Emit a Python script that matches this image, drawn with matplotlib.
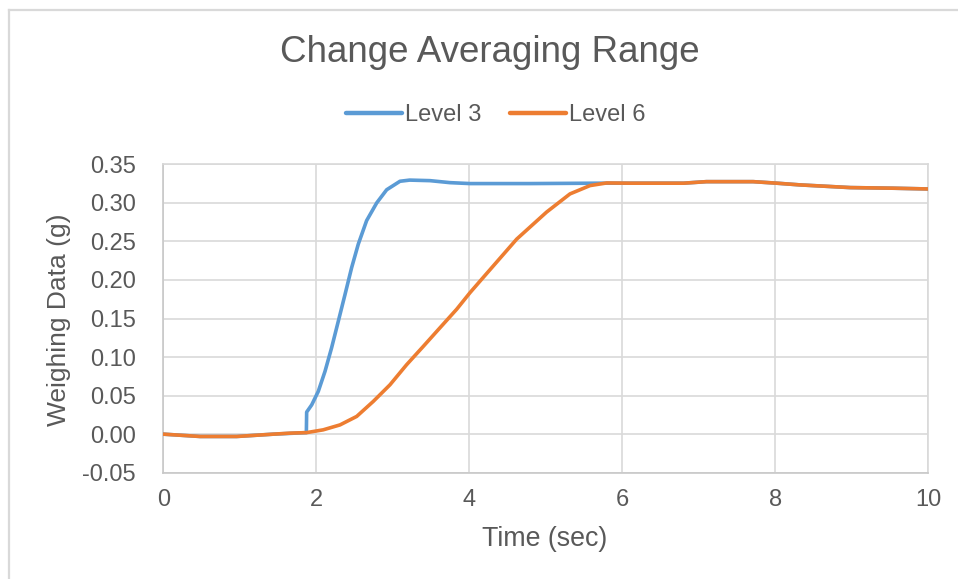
import matplotlib
matplotlib.use("Agg")
import matplotlib.pyplot as plt
from matplotlib.lines import Line2D

# ---- data ----
t_level3 = [0.0, 0.48, 0.96, 1.44, 1.87, 1.874, 1.94, 2.026, 2.114, 2.2, 2.288, 2.375,
            2.462, 2.549, 2.658, 2.79, 2.92, 3.094, 3.22, 3.486, 3.748, 4.01, 4.79,
            5.66, 6.1, 6.8, 7.1, 7.71, 8.02, 8.32, 8.98, 9.54, 10.0]
v_level3 = [0.0, -0.003, -0.003, 0.0, 0.002, 0.0286, 0.038, 0.0555, 0.0815, 0.112, 0.1466,
            0.181, 0.216, 0.2465, 0.277, 0.300, 0.317, 0.328, 0.3295, 0.3288, 0.3262,
            0.3250, 0.3250, 0.3255, 0.3255, 0.3255, 0.3275, 0.3275, 0.3255, 0.3233, 0.3198,
            0.319, 0.318]

t_level6 = [0.0, 0.48, 0.96, 1.44, 1.656, 1.874, 2.09, 2.31, 2.528, 2.745, 2.963, 3.18,
            3.4, 3.617, 3.835, 4.01, 4.18, 4.62, 5.01, 5.316, 5.578, 5.796, 6.1, 6.8,
            7.1, 7.71, 8.02, 8.32, 8.98, 9.54, 10.0]
v_level6 = [0.0, -0.003, -0.003, 0.0, 0.0013, 0.002, 0.0056, 0.012, 0.023, 0.0425, 0.064,
            0.090, 0.114, 0.138, 0.162, 0.1836, 0.203, 0.253, 0.288, 0.3116, 0.3224,
            0.3258, 0.3255, 0.3255, 0.3275, 0.3275, 0.3255, 0.3233, 0.3198, 0.319, 0.318]

series_names = ["Level 3", "Level 6"]
x_ticks = [0, 2, 4, 6, 8, 10]
y_ticks = [-0.05, 0.0, 0.05, 0.10, 0.15, 0.20, 0.25, 0.30, 0.35]
title = "Change Averaging Range"
x_label = "Time (sec)"
y_label = "Weighing Data (g)"

# ---- styling ----
FONT = ["Liberation Sans", "DejaVu Sans"]
TXT = "#595959"
GRID = "#d9d9d9"
BLUE = "#5B9BD5"
ORANGE = "#ED7D31"
plt.rcParams["font.family"] = FONT

W, H = 958, 579
fig = plt.figure(figsize=(W / 100, H / 100), dpi=100)
fig.patch.set_facecolor("white")

ax = fig.add_axes([163.3 / W, 1 - 472.7 / H, 765 / W, 308.4 / H])
ax.plot(t_level3, v_level3, color=BLUE, lw=2.6, label=series_names[0],
        solid_capstyle="round", solid_joinstyle="round", zorder=3)
ax.plot(t_level6, v_level6, color=ORANGE, lw=2.6, label=series_names[1],
        solid_capstyle="round", solid_joinstyle="round", zorder=4)

ax.set_xlim(0, 10)
ax.set_ylim(-0.05, 0.35)
ax.set_xticks(x_ticks)
ax.set_xticklabels([str(v) for v in x_ticks])
ax.set_yticks(y_ticks)
ax.set_yticklabels([f"{v:.2f}" for v in y_ticks])
ax.grid(True, color=GRID, lw=1.2, zorder=0)
ax.set_axisbelow(True)
for s in ax.spines.values():
    s.set_color(GRID)
    s.set_linewidth(1.2)
ax.spines["left"].set_color("#c8c8c8")
ax.spines["bottom"].set_color("#c8c8c8")
ax.tick_params(axis="both", length=0, labelsize=17, labelcolor=TXT)
ax.tick_params(axis="y", pad=20)
ax.tick_params(axis="x", pad=12)

fig.text(490 / W, 1 - 52 / H, title, ha="center", va="center", fontsize=26.5, color=TXT)
fig.text(545 / W, 1 - 539 / H, x_label, ha="center", va="center", fontsize=19.3, color=TXT)
fig.text(59 / W, 1 - 320 / H, y_label, ha="center", va="center", rotation=90,
         fontsize=19, color=TXT)

leg = fig.legend(loc="center", bbox_to_anchor=(496 / W, 1 - 115 / H), ncol=2,
                 frameon=False, fontsize=17, handlelength=2.35, handletextpad=0.15,
                 columnspacing=1.2, labelcolor=TXT)
for l in leg.get_lines():
    l.set_linewidth(3.2)

# outer chart border (top and left visible in reference)
fig.add_artist(Line2D([8.5 / W, 1.0], [1 - 9.5 / H, 1 - 9.5 / H], color=GRID, lw=1.6,
                      transform=fig.transFigure))
fig.add_artist(Line2D([8.5 / W, 8.5 / W], [0.0, 1 - 9.5 / H], color=GRID, lw=1.6,
                      transform=fig.transFigure))

fig.savefig("out.png", dpi=100, facecolor="white")
